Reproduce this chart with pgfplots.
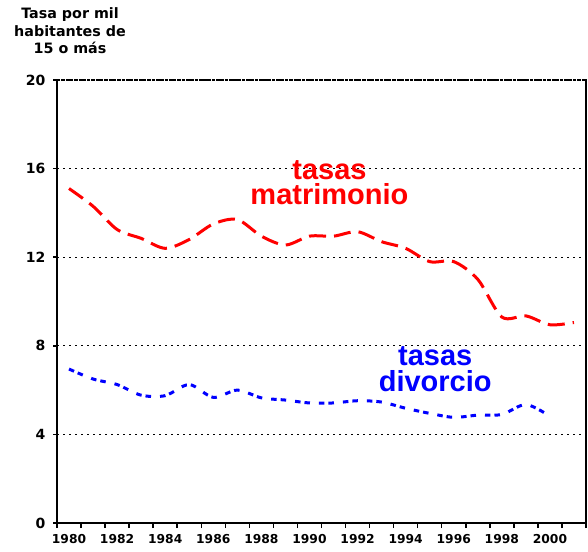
\documentclass[border=0pt]{standalone}
\usepackage{fontspec}
\setmainfont{DejaVu Sans}
\newfontfamily\arialfont{Liberation Sans}
\usepackage{pgfplots}
\pgfplotsset{compat=1.18}

\pgfplotstableread{
year val
1980 15.1
1981 14.3
1982 13.25
1983 12.85
1984 12.4
1985 12.8
1986 13.5
1987 13.7
1988 12.95
1989 12.55
1990 12.95
1991 12.95
1992 13.15
1993 12.7
1994 12.4
1995 11.8
1996 11.8
1997 11.0
1998 9.3
1999 9.35
2000 8.95
2001 9.05
}\matrimonio

\pgfplotstableread{
year val
1980 6.95
1981 6.5
1982 6.25
1983 5.77
1984 5.75
1985 6.25
1986 5.67
1987 6.0
1988 5.65
1989 5.55
1990 5.42
1991 5.42
1992 5.52
1993 5.46
1994 5.18
1995 4.95
1996 4.77
1997 4.87
1998 4.9
1999 5.35
2000 4.82
}\divorcio

\begin{document}
\begin{tikzpicture}
\begin{axis}[
  scale only axis, width=529pt, height=443pt,
  xmin=1979.5, xmax=2001.5, ymin=0, ymax=20,
  clip=false,
  axis x line*=bottom, axis y line*=left,
  axis line style={-, line width=2pt, black},
  xtick={1980,1982,...,2000},
  minor xtick={1979.5,1980.5,...,2001.5},
  ytick={0,4,...,20},
  tick align=outside,
  major tick length=4pt, minor tick length=5pt,
  major x tick style={draw=none},
  tick style={black, line width=1.5pt},
  ymajorgrids,
  major grid style={black, line width=1.3pt, dash pattern=on 1.6pt off 4.4pt},
  /pgf/number format/1000 sep={},
  /pgf/number format/assume math mode=true,
  xticklabel style={font=\bfseries\fontsize{12.3}{12.3}\selectfont, yshift=-4pt},
  yticklabel style={font=\bfseries\fontsize{14}{14}\selectfont, xshift=-4pt},
]
\coordinate (SW) at (rel axis cs:0,0);
\addplot[red, line width=3pt, smooth, tension=0.5, dash pattern=on 17pt off 8pt] table[x=year,y=val] {\matrimonio};
\addplot[blue, line width=3pt, smooth, tension=0.5, dash pattern=on 5.5pt off 4pt on 5.5pt off 9pt] table[x=year,y=val] {\divorcio};
\draw[line width=2pt] (rel axis cs:1,0) -- (rel axis cs:1,1);
\draw[line width=2.5pt, dash pattern=on 3.3pt off 1pt] (rel axis cs:0,1) -- (rel axis cs:1,1);
\node[red, font=\arialfont\bfseries\fontsize{29}{25}\selectfont, align=center, anchor=base, inner sep=0pt] at (axis cs:1990.83,14.36) {tasas\\matrimonio};
\node[blue, font=\arialfont\bfseries\fontsize{29}{26.5}\selectfont, align=center, anchor=base, inner sep=0pt] at (axis cs:1995.23,5.93) {tasas\\divorcio};
\end{axis}
\node[anchor=base, inner sep=0pt, font=\bfseries\fontsize{14.3}{14.3}\selectfont] at ([shift={(13pt,504.7pt)}]SW) {Tasa por mil};
\node[anchor=base, inner sep=0pt, font=\bfseries\fontsize{14.3}{14.3}\selectfont] at ([shift={(13pt,486.3pt)}]SW) {habitantes de};
\node[anchor=base, inner sep=0pt, font=\bfseries\fontsize{14.3}{14.3}\selectfont] at ([shift={(13pt,469.7pt)}]SW) {15 o más};
\pgfresetboundingbox
\path ([shift={(-57pt,-28pt)}]SW) rectangle ++(588pt,551pt);
\end{tikzpicture}
\end{document}
